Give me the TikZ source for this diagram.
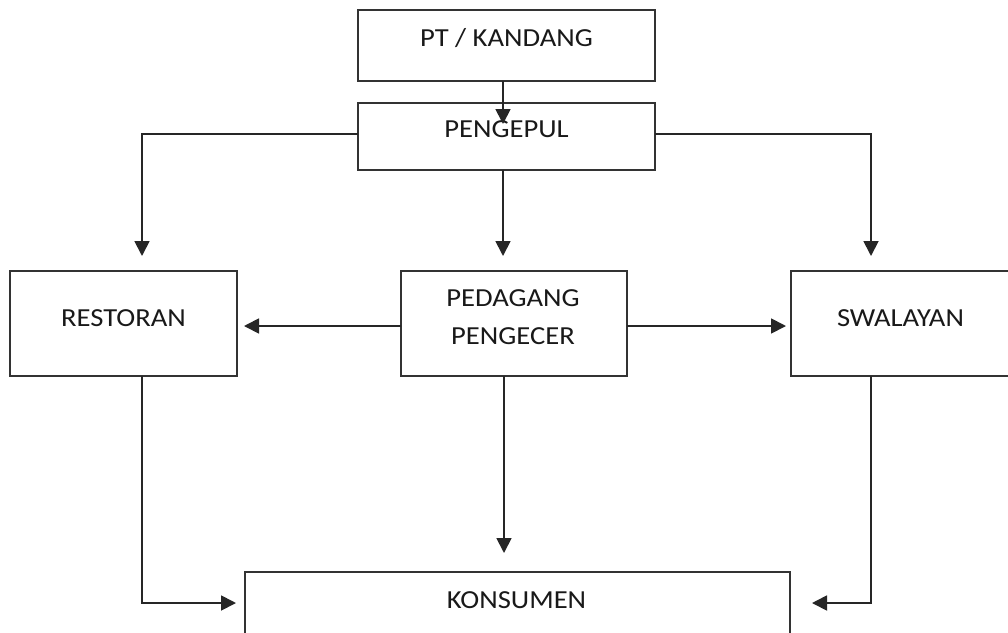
\documentclass[tikz,border=0pt]{standalone}
\usepackage{fontspec}
\setmainfont[FakeStretch=1.1]{Carlito}
\usetikzlibrary{arrows.meta}
\begin{document}
\begin{tikzpicture}[x=1pt,y=-1pt,
  box/.style={draw=black!80,line width=2pt,rectangle,inner sep=0pt,fill=white},
  lbl/.style={anchor=base,inner sep=0pt,text=black!90,font=\fontsize{26}{30}\selectfont},
  flow/.style={draw=black!85,line width=1.8pt,-{Triangle[length=15pt,width=15pt]}},
  link/.style={draw=black!85,line width=1.8pt}]
\useasboundingbox (0,0) rectangle (1008,632);
\clip (0,0) rectangle (1008,632);
\fill[white] (0,0) rectangle (1008,632);

% boxes
\node[box,minimum width=297pt,minimum height=71pt] (pt) at (506.5,45.5) {};
\node[box,minimum width=297pt,minimum height=67pt] (pengepul) at (506.5,136) {};
\node[box,minimum width=227pt,minimum height=105pt] (restoran) at (123.5,323.5) {};
\node[box,minimum width=226pt,minimum height=105pt] (pedagang) at (514,323.5) {};
\node[box,minimum width=219pt,minimum height=105pt] (swalayan) at (900.5,323.5) {};
\node[box,minimum width=545pt,minimum height=100pt] (konsumen) at (517.5,622) {};

% labels
\node[lbl] (tpt) at (506.5,46) {PT / KANDANG};
\node[lbl] (tpengepul) at (506.5,137) {PENGEPUL};
\node[lbl] (trestoran) at (123.5,326) {RESTORAN};
\node[lbl] (tpedagang) at (513,306) {PEDAGANG};
\node[lbl] (tpengecer) at (513,344) {PENGECER};
\node[lbl] (tswalayan) at (900.5,326) {SWALAYAN};
\node[lbl] (tkonsumen) at (516.5,608) {KONSUMEN};

% connector end points
\coordinate (ptOut) at (503,81);
\coordinate (pgIn) at (503,124);
\coordinate (pgL) at (358,134);
\coordinate (pgR) at (655,134);
\coordinate (pgB) at (503,169.5);
\coordinate (restIn) at (142,256);
\coordinate (pedIn) at (503,256);
\coordinate (swalIn) at (871,256);
\coordinate (pedL) at (401,326);
\coordinate (pedR) at (627,326);
\coordinate (pedB) at (504,376);
\coordinate (restSide) at (244,326);
\coordinate (swalSide) at (786,326);
\coordinate (konTop) at (504,553);
\coordinate (restB) at (142,376);
\coordinate (swalB) at (871,376);
\coordinate (konL) at (236,603);
\coordinate (konR) at (812,603);

% connectors
\draw[flow] (ptOut) -- (pgIn);
\draw[flow] (pgL) -| (restIn);
\draw[flow] (pgR) -| (swalIn);
\draw[flow] (pgB) -- (pedIn);
\draw[flow] (pedL) -- (restSide);
\draw[flow] (pedR) -- (swalSide);
\draw[flow] (pedB) -- (konTop);
\draw[flow] (restB) |- (konL);
\draw[flow] (swalB) |- (konR);
\end{tikzpicture}
\end{document}
